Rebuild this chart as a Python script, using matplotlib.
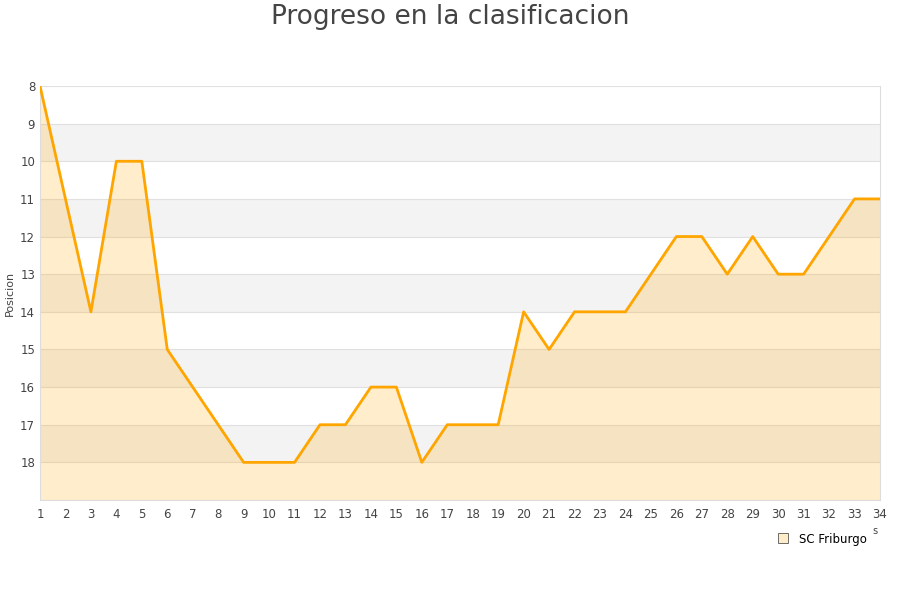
import matplotlib
matplotlib.use("Agg")
import matplotlib.pyplot as plt
from matplotlib.lines import Line2D

rounds = list(range(1, 35))
positions = [8, 11, 14, 10, 10, 15, 16, 17, 18, 18, 18, 17, 17, 16, 16, 18, 17, 17, 17,
             14, 15, 14, 14, 14, 13, 12, 12, 13, 12, 13, 13, 12, 11, 11]
yticks = list(range(8, 19))
team = "SC Friburgo"
title = "Progreso en la clasificacion"
ylabel = "Posicion"

fig = plt.figure(figsize=(9, 6), dpi=100)
ax = fig.add_axes([40/900, 100/600, 840/900, 414/600])

ax.set_xlim(1, 34)
ax.set_ylim(19, 8)

for lo in range(9, 19, 2):
    ax.axhspan(lo, lo + 1, color="#F3F3F3", zorder=0, lw=0)
for y in range(8, 20):
    ax.axhline(y, color="#E0E0E0", lw=0.8, zorder=1)

ax.fill_between(rounds, positions, 19, color="#FFA500", alpha=0.2, lw=0, zorder=2)
ax.plot(rounds, positions, color="#FFA500", lw=2.0, zorder=3)

ax.set_yticks(yticks)
ax.set_xticks(rounds)
ax.tick_params(axis="both", length=0, labelsize=8.5, colors="#444444")
ax.tick_params(axis="x", pad=6)
for s in ["left", "bottom", "right", "top"]:
    ax.spines[s].set_color("#DDDDDD")
ax.spines["top"].set_visible(False)

ax.set_ylabel(ylabel, fontsize=8, color="#444444", labelpad=4)
fig.text(0.5, 1 - 17/600, title, ha="center", va="center", fontsize=19, color="#444444")
fig.text(875/900, 1 - 531/600, "s", fontsize=7, color="#444444", ha="center", va="center")

handle = Line2D([], [], marker="s", ls="none", markersize=7, markerfacecolor="#FFECC8",
                markeredgecolor="#555555", markeredgewidth=0.6)
fig.legend([handle], [team], loc="center", bbox_to_anchor=(819/900, 1 - 539/600),
           frameon=False, fontsize=8.5, handletextpad=0.3)

fig.savefig("out.png", dpi=100)
